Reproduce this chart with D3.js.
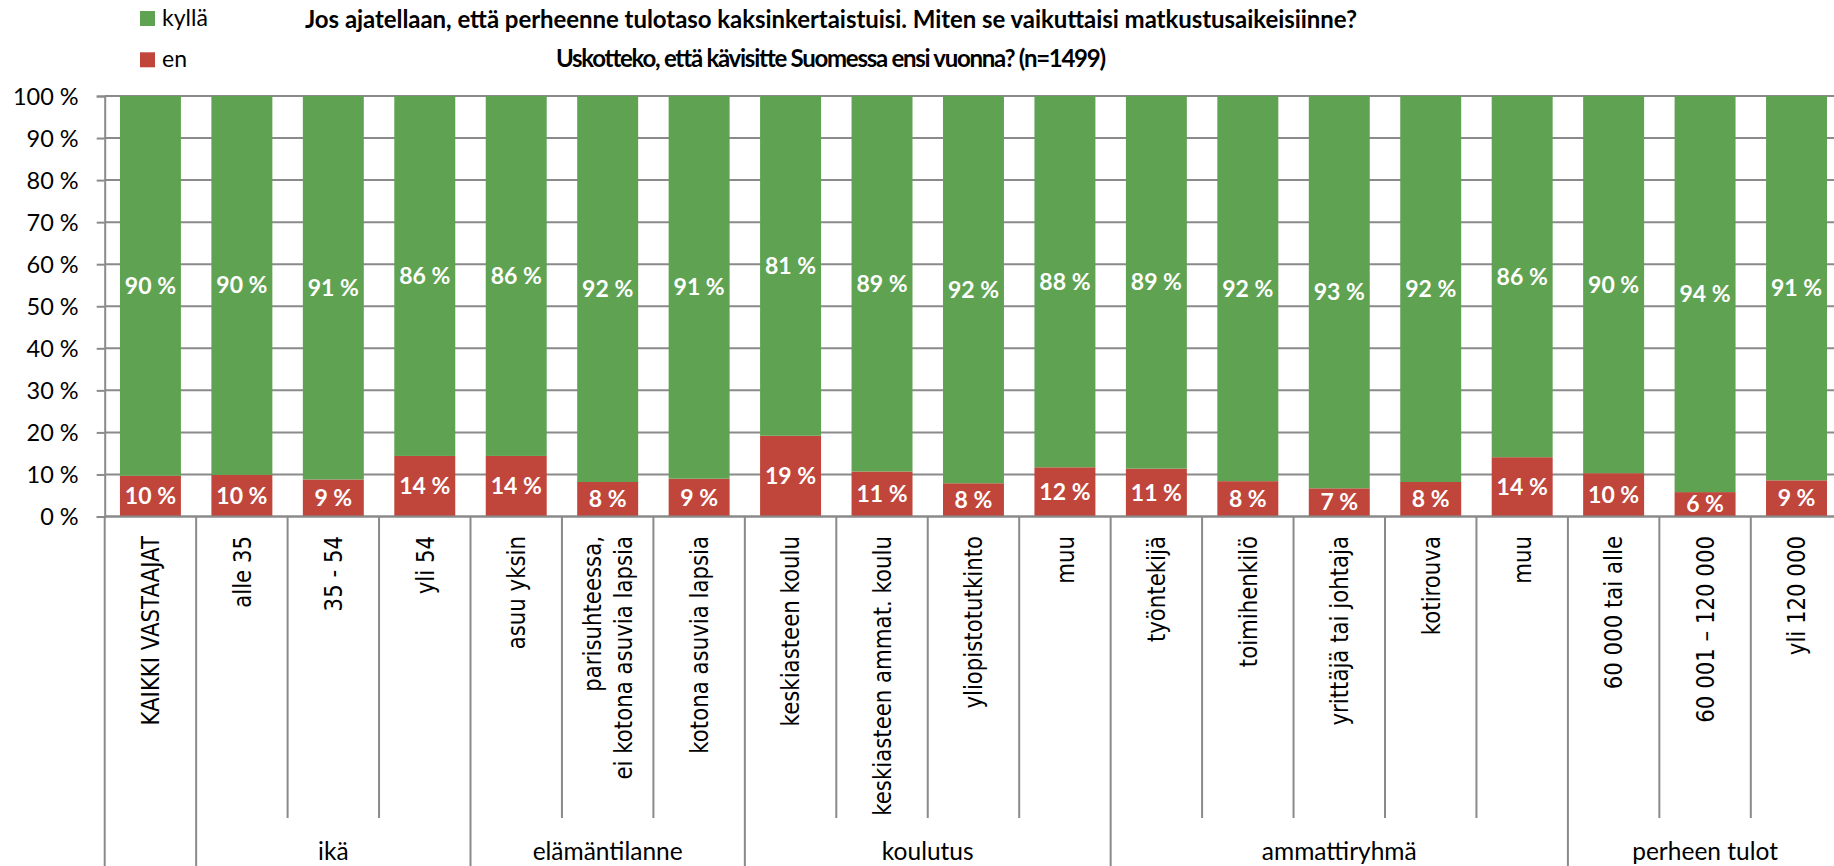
<!DOCTYPE html>
<html lang="fi">
<head>
  <meta charset="UTF-8">
  <title>Matkustusaikeet Suomessa</title>
  <script src="https://d3js.org/d3.v7.min.js"></script>
  <style>
    body { margin: 0; background: #fff; }
    svg { display: block; }
    .calibri { font-family: Lato, "Open Sans", sans-serif; }
    .grid line { stroke: #8a8a8a; stroke-width: 2; }
  </style>
</head>
<body>
  <svg width="1834" height="866"></svg>
  <script>
    const categories = [
      "KAIKKI VASTAAJAT", "alle 35", "35 - 54", "yli 54",
      "asuu yksin", "parisuhteessa,\nei kotona asuvia lapsia", "kotona asuvia lapsia",
      "keskiasteen koulu", "keskiasteen ammat. koulu", "yliopistotutkinto", "muu",
      "työntekijä", "toimihenkilö", "yrittäjä tai johtaja", "kotirouva", "muu",
      "60 000 tai alle", "60 001 – 120 000", "yli 120 000"
    ];
    const groupNames = ["", "ikä", "elämäntilanne", "koulutus", "ammattiryhmä", "perheen tulot"];
    const groupSizes = [1, 3, 3, 4, 5, 3];

    const enValues    = [9.7, 9.9, 8.8, 14.4, 14.4, 8.2, 9.0, 19.2, 10.7, 7.9, 11.7, 11.4, 8.4, 6.7, 8.2, 14.1, 10.3, 5.8, 8.6];
    const kyllaValues = [90.3, 90.1, 91.2, 85.6, 85.6, 91.8, 91.0, 80.8, 89.3, 92.1, 88.3, 88.6, 91.6, 93.3, 91.8, 85.9, 89.7, 94.2, 91.4];

    const yTicks = [0, 10, 20, 30, 40, 50, 60, 70, 80, 90, 100];
    const seriesNames = ["kyllä", "en"];
    const colors = {"kyllä": "#5fa352", "en": "#c0453b"};

    const titleLines = [
      "Jos ajatellaan, että perheenne tulotaso kaksinkertaistuisi. Miten se vaikuttaisi matkustusaikeisiinne?",
      "Uskotteko, että kävisitte Suomessa ensi vuonna? (n=1499)"
    ];
    const titleWidths = [1052, 550];

    const svg = d3.select("svg");
    const x0 = 104.7, step = 91.45;

    const x = d3.scaleBand()
      .domain(d3.range(categories.length))
      .range([x0, x0 + step * categories.length])
      .paddingInner(1 / 3)
      .paddingOuter(1 / 6);

    const y = d3.scaleLinear().domain([0, 100]).range([516.5, 96]);

    const data = categories.map((c, i) => ({i, "en": enValues[i], "kyllä": kyllaValues[i]}));
    const stack = d3.stack().keys(["en", "kyllä"])(data);

    // gridlines + y ticks
    const yAxis = d3.axisLeft(y)
      .tickValues(yTicks)
      .tickSize(8)
      .tickFormat(d => d + " %");

    svg.append("g")
      .attr("class", "grid")
      .selectAll("line")
      .data(yTicks)
      .join("line")
      .attr("x1", x0).attr("x2", 1834 + 20)
      .attr("y1", d => y(d)).attr("y2", d => y(d));

    const ya = svg.append("g")
      .attr("transform", `translate(${x0},0)`)
      .call(yAxis);
    ya.select(".domain").attr("stroke", "#8a8a8a").attr("stroke-width", 2);
    ya.selectAll(".tick line").attr("stroke", "#8a8a8a").attr("stroke-width", 2);
    ya.selectAll(".tick text")
      .attr("class", "calibri")
      .attr("x", -26)
      .attr("dy", "0.35em")
      .style("font-size", "23.5px")
      .attr("fill", "#000");

    // bars
    const layers = svg.append("g").selectAll("g")
      .data(stack)
      .join("g")
      .attr("fill", d => colors[d.key]);

    layers.selectAll("rect")
      .data(d => d)
      .join("rect")
      .attr("x", d => x(d.data.i))
      .attr("width", x.bandwidth())
      .attr("y", d => y(d[1]))
      .attr("height", d => y(d[0]) - y(d[1]));

    // value labels
    layers.selectAll("text")
      .data(d => d.map(v => ({v, key: d.key})))
      .join("text")
      .attr("class", "calibri")
      .attr("x", d => x(d.v.data.i) + x.bandwidth() / 2)
      .attr("y", d => y((d.v[0] + d.v[1]) / 2))
      .attr("dy", "0.35em")
      .attr("text-anchor", "middle")
      .attr("fill", "#fff")
      .style("font-size", "23px")
      .style("font-weight", "bold")
      .text(d => Math.round(d.v.data[d.key]) + " %");

    // x axis baseline
    svg.append("line")
      .attr("x1", x0).attr("x2", 1834 + 20)
      .attr("y1", y(0)).attr("y2", y(0))
      .attr("stroke", "#8a8a8a").attr("stroke-width", 2);

    // category separators
    const groupStarts = [];
    groupSizes.reduce((acc, s) => { groupStarts.push(acc); return acc + s; }, 0);
    const boundaries = d3.range(categories.length + 1);
    svg.append("g").selectAll("line")
      .data(boundaries)
      .join("line")
      .attr("x1", b => x0 + b * x.step())
      .attr("x2", b => x0 + b * x.step())
      .attr("y1", y(0))
      .attr("y2", b => (groupStarts.includes(b) || b === categories.length) ? 866 : 818)
      .attr("stroke", "#8a8a8a").attr("stroke-width", 2);

    // category labels (rotated), font size fitted so the longest one-line label is ~280px
    const catG = svg.append("g")
      .attr("font-family", "'DejaVu Sans', 'Noto Sans', sans-serif")
      .attr("font-size", 20)
      .selectAll("text")
      .data(categories)
      .join("text")
      .attr("fill", "#000")
      .attr("text-anchor", "end")
      .attr("transform", (c, i) => `translate(${x(i) + x.bandwidth() / 2},536) rotate(-90) scale(1,1.15)`);

    catG.each(function (c) {
      const lines = c.split("\n");
      const t = d3.select(this);
      lines.forEach((ln, k) => {
        t.append("tspan")
          .attr("x", 0)
          .attr("y", (k - (lines.length - 1) / 2) * 1.3 + "em")
          .attr("dy", "0.36em")
          .text(ln);
      });
    });
    const refLen = catG.filter((c, i) => i === 8).node().getComputedTextLength();
    const catSize = 20 * 280 / refLen;
    catG.attr("font-size", catSize);

    // group labels
    svg.append("g").selectAll("text")
      .data(groupNames)
      .join("text")
      .attr("class", "calibri")
      .attr("x", (g, k) => x0 + (groupStarts[k] + groupSizes[k] / 2) * x.step())
      .attr("y", 860)
      .attr("text-anchor", "middle")
      .style("font-size", "24.5px")
      .text(g => g);

    // title
    svg.append("g").selectAll("text")
      .data(titleLines)
      .join("text")
      .attr("class", "calibri")
      .attr("x", 831)
      .attr("y", (t, k) => 27.5 + k * 39.5)
      .attr("text-anchor", "middle")
      .attr("textLength", (t, k) => titleWidths[k])
      .attr("lengthAdjust", "spacing")
      .style("font-size", "24px")
      .style("font-weight", "bold")
      .text(t => t);

    // legend
    const legend = svg.append("g").selectAll("g")
      .data(seriesNames)
      .join("g")
      .attr("transform", (s, k) => `translate(140,${11 + k * 41.3})`);
    legend.append("rect")
      .attr("width", 15).attr("height", 15)
      .attr("fill", s => colors[s]);
    legend.append("text")
      .attr("class", "calibri")
      .attr("x", 22).attr("y", 14.7)
      .style("font-size", "23px")
      .text(s => s);
  </script>
</body>
</html>
